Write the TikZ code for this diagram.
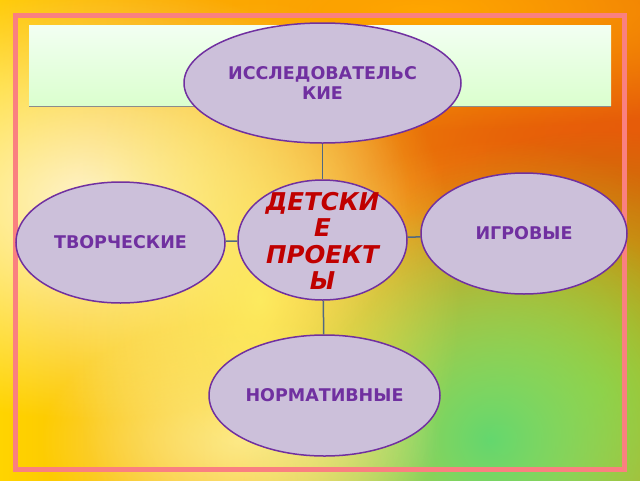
\documentclass[tikz,border=0pt]{standalone}
\usepackage{fontspec}
\setmainfont{DejaVu Sans}
\usepackage{tikz}
\usetikzlibrary{shapes,arrows,fadings}
\definecolor{ovalfill}{RGB}{204,192,218}
\definecolor{ovalline}{RGB}{112,48,160}
\definecolor{kidred}{RGB}{192,0,0}
\definecolor{linkcolor}{RGB}{80,104,130}
\definecolor{framecolor}{RGB}{250,128,128}
\definecolor{bgyellow}{RGB}{255,212,0}
\definecolor{bgorange}{RGB}{228,100,10}
\definecolor{bggreen}{RGB}{100,215,110}
\definecolor{bgolive}{RGB}{135,175,10}
\tikzfading[name=glow, inner color=transparent!0, outer color=transparent!100]
\tikzstyle{oval} = [draw=ovalline, fill=ovalfill, ellipse, line width=1.5pt, inner sep=0pt,
    text=ovalline, font=\bfseries\fontsize{17.5}{20}\selectfont, align=center]
\tikzstyle{link} = [draw=linkcolor, line width=1.5pt]
\pgfdeclarelayer{bg}
\pgfsetlayers{bg,main}

\begin{document}
\begin{tikzpicture}[x=1pt,y=-1pt]
\useasboundingbox (0,0) rectangle (640,480);

%% Background %%
\begin{pgfonlayer}{bg}
\shade[left color=bgyellow, right color=bgorange] (0,0) rectangle (640,480);
\fill[bgorange!90!red, path fading=glow] (600,190) ellipse (400 and 320);
\fill[orange!70!yellow, path fading=glow] (420,10) ellipse (520 and 120);
\fill[bgolive, path fading=glow] (600,390) ellipse (300 and 260);
\fill[yellow!70!white, opacity=0.7, path fading=glow] (500,440) ellipse (300 and 300);
\fill[bggreen, path fading=glow] (490,440) ellipse (250 and 240);
\fill[white, opacity=0.8, path fading=glow] (90,200) ellipse (320 and 220);
\fill[white, opacity=0.6, path fading=glow] (240,440) ellipse (200 and 120);
\fill[yellow!60!white, opacity=0.8, path fading=glow] (260,300) ellipse (200 and 300);
%% Banner %%
\draw[black!45, line width=2pt] (29,106) -- (611,106);
\shade[top color=white!95!green, bottom color=green!15!white!95!yellow] (29,25) rectangle (611,105);
\end{pgfonlayer}

%% Frame %%
\draw[framecolor, line width=5pt] (15.5,15) rectangle (624.5,469.5);

%% Ovals %%
\node [oval, minimum width=169pt, minimum height=120pt] (Projects) at (322.5,240) {};
\node [text=kidred, font=\bfseries\itshape\fontsize{24.5}{26.3}\selectfont, align=center]
    (ProjectsText) at (322.5,241) {ДЕТСКИ\\Е\\ПРОЕКТ\\Ы};
\node [oval, minimum width=277pt, minimum height=120pt] (Research) at (322.5,83) {ИССЛЕДОВАТЕЛЬС\\КИЕ};
\node [oval, minimum width=209pt, minimum height=121pt] (Creative) at (120.5,242.5) {ТВОРЧЕСКИЕ};
\node [oval, minimum width=206pt, minimum height=121pt] (Game) at (524,233.5) {ИГРОВЫЕ};
\node [oval, minimum width=231pt, minimum height=121pt] (Normative) at (324.5,395.5) {НОРМАТИВНЫЕ};

%% Connections %%
\draw[link] (Research) -- (Projects);
\draw[link] (Projects) -- (Normative);
\draw[link] (Creative) -- (Projects);
\draw[link] (Projects) -- (Game);

\end{tikzpicture}
\end{document}
